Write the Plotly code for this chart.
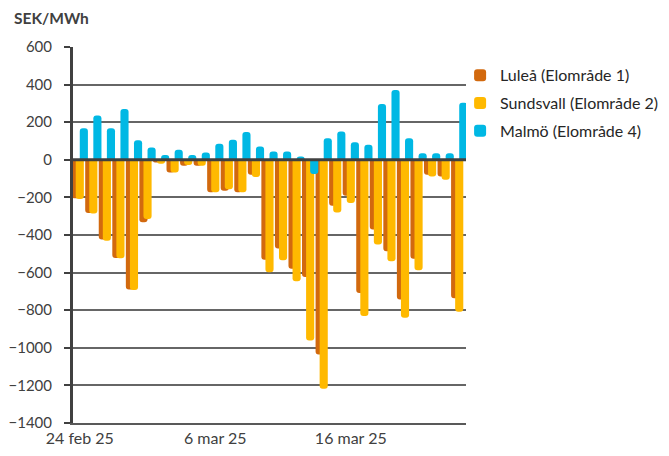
import plotly.graph_objects as go
import pandas as pd

dates = pd.date_range("2025-02-24", "2025-03-24", freq="D")

lulea = [-205, -283, -424, -522, -690, -332, -14, -67, -32, -32,
         -173, -164, -173, -80, -531, -472, -580, -624, -1036, -244,
         -191, -708, -371, -487, -743, -526, -80, -89, -737]
sundsvall = [-209, -285, -431, -524, -692, -315, -21, -67, -28, -32,
             -173, -156, -173, -92, -598, -534, -646, -961, -1218, -280,
             -230, -831, -451, -540, -840, -587, -89, -106, -808]
malmo = [168, 235, 168, 270, 104, 65, 25, 53, 25, 39,
         85, 106, 148, 71, 44, 44, 18, -76, 115, 150,
         94, 80, 297, 371, 115, 35, 35, 35, 304]

series_names = ["Luleå (Elområde 1)", "Sundsvall (Elområde 2)", "Malmö (Elområde 4)"]
series_values = [lulea, sundsvall, malmo]
colors = ["#D2690E", "#FFB900", "#00B8E4"]
offsets_days = [-0.6, -0.3, 0.0]

tick_dates = ["2025-02-24", "2025-03-06", "2025-03-16"]
tick_labels = ["24 feb 25", "6 mar 25", "16 mar 25"]
y_ticks = list(range(-1400, 601, 200))

DAY_MS = 86400000
fig = go.Figure()
for i, (name, vals, col, off) in enumerate(zip(series_names, series_values, colors, offsets_days)):
    fig.add_trace(go.Bar(
        x=dates, y=vals, name=name, legendgroup=f"g{i}",
        marker=dict(color=col, line=dict(width=0), cornerradius=3),
        width=0.6 * DAY_MS, offset=off * DAY_MS,
    ))

font_fam = "Lato, 'Open Sans', sans-serif"
fig.update_layout(
    barmode="overlay",
    width=661, height=448,
    margin=dict(l=65, r=203, t=39, b=33, autoexpand=False),
    plot_bgcolor="white", paper_bgcolor="white",
    font=dict(family=font_fam, size=13, color="#404040"),
    showlegend=True,
    legend=dict(x=0.985, y=0.97, xanchor="left", yanchor="top",
                traceorder="grouped", bgcolor="rgba(0,0,0,0)",
                font=dict(size=16, color="#262626"), tracegroupgap=4,
                itemwidth=30),
    xaxis=dict(
        range=["2025-02-23 12:00", "2025-03-24 12:00"],
        tickvals=tick_dates, ticktext=tick_labels,
        showgrid=False, ticks="", tickfont=dict(size=16, color="#404040"),
        showline=True, linecolor="#595959", linewidth=2,
    ),
    yaxis=dict(
        range=[-1400, 600], tickvals=y_ticks,
        showgrid=True, gridcolor="#666666", gridwidth=1.5,
        zeroline=False,
        showline=True, linecolor="#404040", linewidth=3,
        ticks="outside", ticklen=6, tickwidth=2, tickcolor="#404040",
        ticklabelstandoff=9,
        tickfont=dict(size=15, color="#404040"),
    ),
    shapes=[dict(type="line", xref="paper", x0=0, x1=1, yref="y", y0=0, y1=0,
                 line=dict(color="#404040", width=3), layer="above")],
    annotations=[dict(text="<b>SEK/MWh</b>", xref="paper", yref="paper",
                      x=-0.155, y=1.077, xanchor="left", yanchor="middle",
                      showarrow=False, font=dict(size=15.5, color="#404040"))],
)

fig.write_html("out.html")
